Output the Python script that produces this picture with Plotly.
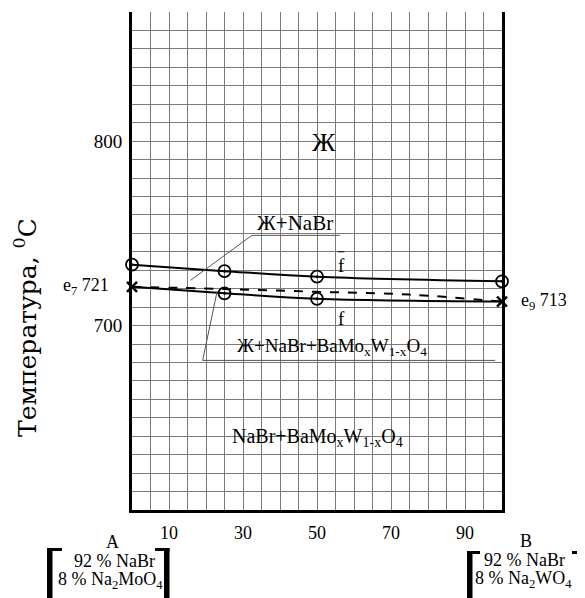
import plotly.graph_objects as go

# ---------------- data ----------------
X_COMP = [0, 25, 50, 100]                 # % of B
T_LIQUIDUS = [733, 729.5, 726.5, 724]     # upper curve (circles)
T_SOLIDUS = [721, 717.5, 714.5, 713]      # lower curve
X_DASH = [0, 25, 50, 75, 100]
T_DASH = [721, 719.8, 718.3, 716.8, 713]  # dashed line
EUT_X = [0, 100]
EUT_T = [721, 713]
EUT_LABELS = ["e<sub>7</sub> 721", "e<sub>9</sub> 713"]
X_TICKS = [10, 30, 50, 70, 90]
Y_TICKS = [700, 800]
X_RANGE = [0, 100]
Y_RANGE = [600, 870]

FONT = "Liberation Serif"
OFF = 8                      # page body margin offset
SW, SH = 585, 598            # screen size
W, H = SW - OFF, SH - OFF
PL, PR, PT, PB = 132, 502, 12, 510   # plot area in screen px
L, R, T, B = PL - OFF, SW - PR, PT - OFF, SH - PB
PW, PH = PR - PL, PB - PT


def px(x, y):
    """screen pixel -> paper coords"""
    return (x - PL) / PW, (PB - y) / PH


fig = go.Figure()

fig.add_trace(go.Scatter(x=X_DASH, y=T_DASH, mode="lines",
                         line=dict(color="black", width=2, dash="dash"),
                         line_shape="spline", hoverinfo="skip", cliponaxis=False))
fig.add_trace(go.Scatter(x=X_COMP, y=T_LIQUIDUS, mode="lines+markers",
                         line=dict(color="black", width=2), line_shape="spline",
                         marker=dict(symbol="circle-open-dot", size=12, color="black",
                                     line=dict(width=1.8, color="black")),
                         cliponaxis=False))
fig.add_trace(go.Scatter(x=X_COMP, y=T_SOLIDUS, mode="lines",
                         line=dict(color="black", width=2), line_shape="spline",
                         cliponaxis=False))
fig.add_trace(go.Scatter(x=X_COMP[1:3], y=T_SOLIDUS[1:3], mode="markers",
                         marker=dict(symbol="circle-open-dot", size=12, color="black",
                                     line=dict(width=1.8, color="black")),
                         cliponaxis=False))
fig.add_trace(go.Scatter(x=EUT_X, y=EUT_T, mode="markers",
                         marker=dict(symbol="x-thin", size=10, color="black",
                                     line=dict(width=2.5, color="black")),
                         cliponaxis=False))

grid = "#7a7a7a"
fig.update_xaxes(range=X_RANGE, tickvals=X_TICKS, ticktext=[str(v) for v in X_TICKS],
                 showgrid=True, gridcolor=grid, gridwidth=1, automargin=False,
                 minor=dict(tick0=0, dtick=5, showgrid=True, gridcolor=grid, gridwidth=1),
                 showline=True, linecolor="black", linewidth=3, mirror=False,
                 ticks="", ticklabelstandoff=4, zeroline=False,
                 tickfont=dict(family=FONT, size=18, color="black"))
fig.update_yaxes(range=Y_RANGE, tickvals=Y_TICKS, ticktext=[str(v) for v in Y_TICKS],
                 showgrid=True, gridcolor=grid, gridwidth=1, automargin=False,
                 minor=dict(tick0=600, dtick=10, showgrid=True, gridcolor=grid, gridwidth=1),
                 showline=True, linecolor="black", linewidth=3, mirror=True,
                 ticks="", ticklabelstandoff=3, zeroline=False,
                 tickfont=dict(family=FONT, size=19, color="black"))

ann = []


def add_text(text, x, y, size, xref="x", yref="y", xanchor="center", family=FONT, **kw):
    ann.append(dict(text=text, x=x, y=y, xref=xref, yref=yref, showarrow=False,
                    xanchor=xanchor, yanchor="middle",
                    font=dict(family=family, size=size, color="black"), **kw))


add_text("Ж", 52, 799, 26)
add_text("Ж+NaBr", 44, 755.5, 21)
add_text("f", 56.5, 732.5, 19)
add_text("f", 56.5, 703.7, 19)
add_text("Ж+NaBr+BaMo<sub>x</sub>W<sub>1-x</sub>O<sub>4</sub>", 27.8, 688.3, 19, xanchor="left")
add_text("NaBr+BaMo<sub>x</sub>W<sub>1-x</sub>O<sub>4</sub>", 50.2, 639.3, 20)

ann.append(dict(text=EUT_LABELS[0], x=EUT_X[0], y=EUT_T[0], xref="x", yref="y",
                showarrow=False, xanchor="right", yanchor="middle", xshift=-21,
                font=dict(family=FONT, size=18, color="black")))
ann.append(dict(text=EUT_LABELS[1], x=EUT_X[1], y=EUT_T[1], xref="x", yref="y",
                showarrow=False, xanchor="left", yanchor="middle", xshift=17,
                font=dict(family=FONT, size=18, color="black")))

tx, ty = px(25, 328)
add_text("Температура, <sup>0</sup>C", tx, ty, 25, xref="paper", yref="paper",
         family="DejaVu Serif", textangle=-90)

for txt, (x, y), size in [
    ("A", (112, 542), 18),
    ("92 % NaBr", (114, 561), 18),
    ("8 % Na<sub>2</sub>MoO<sub>4</sub>", (110, 580), 18),
    ("B", (526, 541), 18),
    ("92 % NaBr", (524, 560), 18),
    ("8 % Na<sub>2</sub>WO<sub>4</sub>", (523, 579), 18),
]:
    xx, yy = px(x, y)
    add_text(txt, xx, yy, size, xref="paper", yref="paper")

fig.update_layout(annotations=ann)

shapes = []
shapes.append(dict(type="line", xref="x", yref="y", x0=55.6, x1=57.4, y0=740, y1=740,
                   line=dict(color="black", width=1)))
shapes.append(dict(type="line", xref="x", yref="y", x0=32.4, x1=56.2, y0=748.9, y1=748.9,
                   line=dict(color="#555", width=1)))
shapes.append(dict(type="line", xref="x", yref="y", x0=32.4, x1=15.8, y0=748.9, y1=724.5,
                   line=dict(color="#555", width=1)))
shapes.append(dict(type="line", xref="x", yref="y", x0=19.1, x1=98.1, y0=681.1, y1=681.1,
                   line=dict(color="#555", width=1)))
shapes.append(dict(type="line", xref="x", yref="y", x0=19.1, x1=23.0, y0=681.1, y1=718.5,
                   line=dict(color="#555", width=1)))


def rect(x0, y0, x1, y1):
    a0, b0 = px(x0, y0)
    a1, b1 = px(x1, y1)
    shapes.append(dict(type="rect", xref="paper", yref="paper", x0=a0, x1=a1, y0=b1, y1=b0,
                       fillcolor="black", line=dict(width=0), layer="below"))


rect(47, 548, 52.5, 598)
rect(47, 548, 62, 551)
rect(164, 548, 169.5, 598)
rect(155, 548, 169.5, 551)
rect(467, 551, 472.5, 598)
rect(467, 551, 480, 554)
rect(579, 551, 585, 598)
rect(572, 551, 585, 554)

fig.update_layout(shapes=shapes)

fig.update_layout(width=W, height=H, margin=dict(l=L, r=R, t=T, b=B, autoexpand=False),
                  plot_bgcolor="white", paper_bgcolor="white", showlegend=False,
                  font=dict(family=FONT, color="black"))

fig.write_html("out.html")
